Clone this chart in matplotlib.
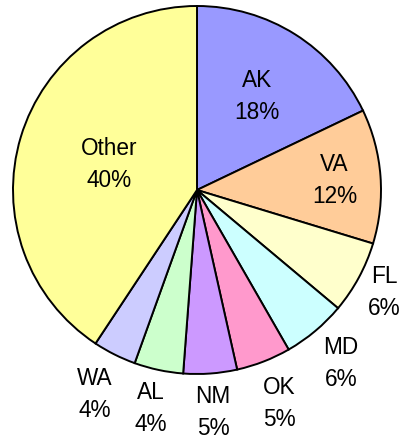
import numpy as np
import matplotlib
matplotlib.use("Agg")
import matplotlib.pyplot as plt

labels = ["AK", "VA", "FL", "MD", "OK", "NM", "AL", "WA", "Other"]
values = [17.9, 11.8, 6.4, 5.6, 4.8, 4.7, 4.3, 3.8, 40.7]
pct_text = ["18%", "12%", "6%", "6%", "5%", "5%", "4%", "4%", "40%"]
colors = ["#9999ff", "#ffcc99", "#ffffcc", "#ccffff", "#ff99cc",
          "#cc99ff", "#ccffcc", "#ccccff", "#ffff99"]
label_dist = [0.61, 0.75, 1.16, 1.22, 1.24, 1.205, 1.21, 1.24, 0.5]

plt.rcParams['font.family'] = ['Liberation Sans', 'DejaVu Sans']

fig = plt.figure(figsize=(4.01, 4.39), dpi=100)
R = 184
cx, cy = 197, 439 - 191
ax = fig.add_axes([(cx - R) / 401, (cy - R) / 439, 2 * R / 401, 2 * R / 439])
wedges, _ = ax.pie(values, colors=colors, startangle=90, counterclock=False,
                   wedgeprops=dict(edgecolor="black", linewidth=1.4),
                   radius=1.0)
for w, lab, pt, d in zip(wedges, labels, pct_text, label_dist):
    ang = np.deg2rad((w.theta1 + w.theta2) / 2)
    x, y = d * np.cos(ang), d * np.sin(ang)
    ax.text(x, y, f"{lab}\n{pt}", ha="center", va="center", fontsize=16.3,
            linespacing=1.5, color="black")
ax.set_xlim(-1.0, 1.0)
ax.set_ylim(-1.0, 1.0)
ax.set_aspect("equal")
ax.axis("off")
fig.savefig("out.png", dpi=100)
